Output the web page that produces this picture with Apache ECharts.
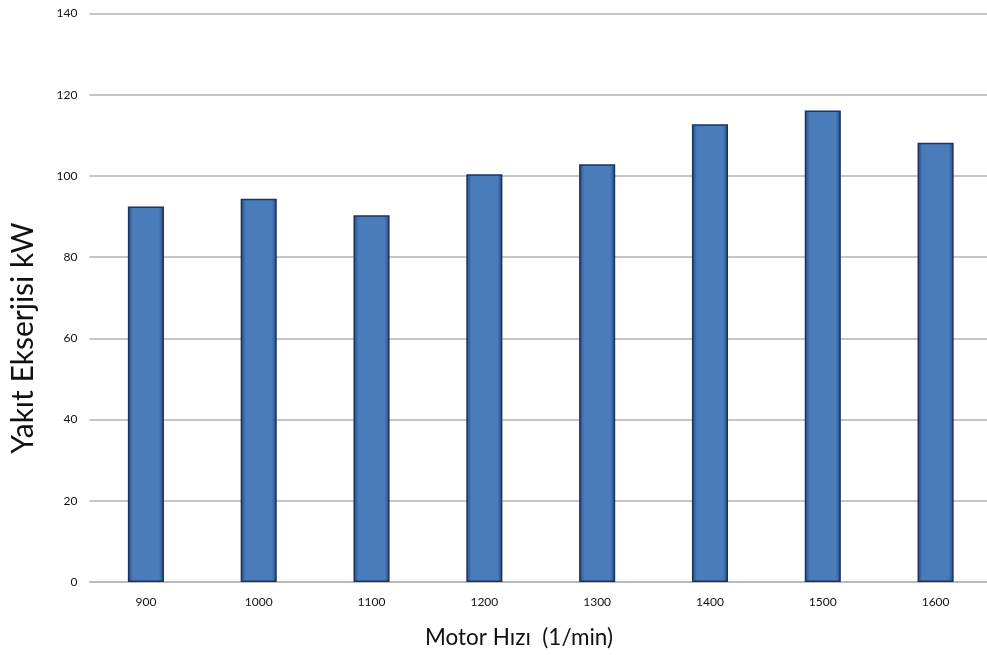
<!DOCTYPE html>
<html><head><meta charset="utf-8">
<script src="https://cdn.jsdelivr.net/npm/echarts@6/dist/echarts.min.js"></script>
<style>html,body{margin:0;padding:0;background:#fff}#c{width:987px;height:655px}</style>
</head><body><div id="c"></div>
<script>
const categories = ['900','1000','1100','1200','1300','1400','1500','1600'];
const values = [92.5, 94.4, 90.3, 100.4, 102.9, 112.7, 116.1, 108.2];
const yTicks = [0, 20, 40, 60, 80, 100, 120, 140];
const xTitle = 'Motor Hızı  (1/min)';
const yTitle = 'Yakıt Ekserjisi kW';

const chart = echarts.init(document.getElementById('c'));
chart.setOption({
  animation: false,
  backgroundColor: '#fff',
  grid: {left: 89.5, right: -5, top: 13.5, bottom: 73, containLabel: false, outerBoundsMode: 'none'},
  xAxis: {
    type: 'category', data: categories,
    axisLine: {lineStyle: {color: '#b8b8b8', width: 1.5}},
    axisTick: {show: false},
    axisLabel: {fontFamily: 'Lato', fontSize: 12, color: '#111', margin: 14}
  },
  yAxis: {
    type: 'value', min: yTicks[0], max: yTicks[yTicks.length-1], interval: 20,
    axisLine: {show: false}, axisTick: {show: false},
    axisLabel: {fontFamily: 'Lato', fontSize: 12, color: '#111', margin: 12},
    splitLine: {lineStyle: {color: '#b3b3b3', width: 1.5}}
  },
  graphic: [
    {type: 'text', x: 519, y: 638, style: {text: xTitle, fontFamily: 'Lato', fontSize: 22.5, fill: '#111', align: 'center', verticalAlign: 'middle'}},
    {type: 'text', x: 23, y: 338, rotation: Math.PI/2, style: {text: yTitle, fontFamily: 'Lato', fontSize: 30, fill: '#111', align: 'center', verticalAlign: 'middle'}}
  ],
  series: [{
    type: 'bar', data: values, barWidth: '32%',
    itemStyle: {
      color: new echarts.graphic.LinearGradient(0, 0, 1, 0, [
        {offset: 0, color: '#244a82'},
        {offset: 0.14, color: '#4a7cbb'},
        {offset: 0.86, color: '#4a7cbb'},
        {offset: 1, color: '#244a82'}
      ]),
      borderColor: '#18345f', borderWidth: 1.5
    }
  }]
});
</script></body></html>
